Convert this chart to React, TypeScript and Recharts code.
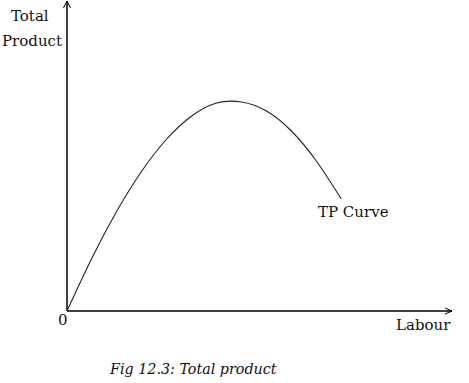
import { LineChart, Line, XAxis, YAxis, ReferenceLine } from 'recharts';

// labour units vs total product (arbitrary units)
const labour = [0, 25, 50, 75, 100, 125, 150, 175, 200, 225, 250, 275];
const totalProduct = [0, 53, 100, 140, 172, 195, 208, 209, 200, 180, 150, 112];

const X_MAX = 386;
const Y_MAX = 309;

const data = labour.map((l, i) => ({ labour: l, tp: totalProduct[i] }));

const serif = '"DejaVu Serif", "Liberation Serif", serif';

const label = (left: number, top: number, text: string, extra: React.CSSProperties = {}) => (
  <div style={{ position: 'absolute', left, top, fontFamily: serif, fontSize: 15, color: '#111', lineHeight: 1, whiteSpace: 'nowrap', ...extra }}>
    {text}
  </div>
);

export default function App() {
  return (
    <div style={{ position: 'absolute', left: 0, top: 0, width: 469, height: 383, background: '#fff' }}>
      <LineChart width={469} height={383} data={data} margin={{ top: 2, right: 17, bottom: 72, left: 67 }}>
        <XAxis dataKey="labour" type="number" domain={[0, X_MAX]} hide />
        <YAxis type="number" domain={[0, Y_MAX]} hide />
        {/* axes */}
        <ReferenceLine segment={[{ x: 0, y: 0 }, { x: X_MAX, y: 0 }]} stroke="#000" strokeWidth={1.5} ifOverflow="visible" />
        <ReferenceLine segment={[{ x: 0, y: 0 }, { x: 0, y: Y_MAX + 1 }]} stroke="#000" strokeWidth={1.5} ifOverflow="visible" />
        {/* arrow heads */}
        <ReferenceLine segment={[{ x: 0, y: Y_MAX + 1 }, { x: -3.5, y: Y_MAX - 6 }]} stroke="#000" ifOverflow="visible" />
        <ReferenceLine segment={[{ x: 0, y: Y_MAX + 1 }, { x: 3.5, y: Y_MAX - 6 }]} stroke="#000" ifOverflow="visible" />
        <ReferenceLine segment={[{ x: X_MAX, y: 0 }, { x: X_MAX - 7, y: 3 }]} stroke="#000" ifOverflow="visible" />
        <ReferenceLine segment={[{ x: X_MAX, y: 0 }, { x: X_MAX - 7, y: -3 }]} stroke="#000" ifOverflow="visible" />
        <Line dataKey="tp" type="natural" stroke="#222" strokeWidth={1.1} dot={false} isAnimationActive={false} />
      </LineChart>
      {label(11, 9, 'Total')}
      {label(2, 34, 'Product')}
      {label(58, 313, '0')}
      {label(396, 318, 'Labour')}
      {label(318, 205, 'TP Curve')}
      {label(110, 362, 'Fig 12.3: Total product', { fontStyle: 'italic', fontSize: 14.3 })}
    </div>
  );
}
